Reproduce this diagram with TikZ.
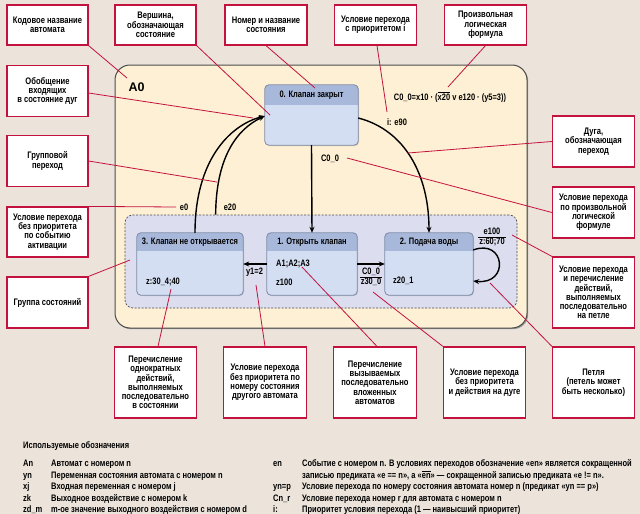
\documentclass[tikz,border=0pt]{standalone}
\usepackage{fontspec}
\setmainfont{Liberation Sans}
\newfontfamily\cnd{Liberation Sans}[FakeStretch=0.8]
\usetikzlibrary{arrows.meta,shadows}
\definecolor{bg}{HTML}{ECE4DB}
\definecolor{panel}{HTML}{FDF0D4}
\definecolor{grpfill}{HTML}{DCDEEF}
\definecolor{sthead}{HTML}{A8B8DA}
\definecolor{stbody}{HTML}{D4DEF2}
\definecolor{stedge}{HTML}{7D8AA8}
\definecolor{crim}{HTML}{C4123E}
\newcommand\cfont{\fontsize{9.5}{9.3}\selectfont\cnd\bfseries}
\newcommand\lfont{\fontsize{9.35}{9.6}\selectfont\cnd\bfseries}
\newcommand\lgfont{\fontsize{9.4}{9.6}\selectfont\cnd\bfseries}
\tikzset{
 callout/.style={draw=crim, line width=1.2pt, fill=white, align=center, inner sep=1pt, font=\cfont},
 lead/.style={draw=crim, line width=0.8pt},
 arr/.style={draw=black, line width=1.4pt, -{Stealth[length=6pt,width=5pt]}},
 lbl/.style={font=\lfont, inner sep=1pt},
 lg/.style={font=\lgfont, inner sep=0pt, anchor=base west},
 statebox/.style={fill=stbody, rounded corners=4pt, inner sep=0pt,
   drop shadow={shadow xshift=1pt, shadow yshift=-1pt, opacity=0.3}},
}
\newcommand\mkstate[6]{%
 \node[statebox, minimum width=#4pt, minimum height=#5pt] (#1) at (#2,#3) {};
 \begin{scope}
 \clip[rounded corners=4pt] (#1.north west) rectangle (#1.south east);
 \fill[sthead] (#1.north west) rectangle ([yshift=-#6pt]#1.north east);
 \end{scope}
 \draw[stedge, line width=0.8pt, rounded corners=4pt] (#1.north west) rectangle (#1.south east);
}
\begin{document}
\begin{tikzpicture}[x=1pt,y=-1pt]
\useasboundingbox (0,0) rectangle (640,514);
\fill[bg] (0,0) rectangle (640,514);
% panel A0
\fill[black!40, rounded corners=15pt] (116.2,66.2) rectangle (528.2,329.2);
\node[fill=panel, draw=black!70, line width=1pt, rounded corners=15pt, minimum width=412pt, minimum height=263pt, inner sep=0pt] (panel) at (321,196.5) {};
\node[font=\fontsize{12.5}{14}\selectfont\bfseries, inner sep=0pt] (a0) at (136.5,87) {A0};
% group
\node[fill=grpfill, draw=black!70, line width=0.7pt, dash pattern=on 2pt off 1.5pt, rounded corners=8pt, minimum width=392pt, minimum height=93pt, inner sep=0pt] (grp) at (321,261.5) {};
\coordinate (g20) at ([xshift=91pt]grp.north west);
% states
\mkstate{s0}{311.5}{115}{93}{60}{20}
\mkstate{s3}{190}{264}{106}{62}{18}
\mkstate{s1}{312}{264}{90}{62}{18}
\mkstate{s2}{429}{264}{88}{62}{18}
\node[lbl] (s0h) at (311.5,95) {0. Клапан закрыт};
\node[lbl] (s3h) at (190,242) {3. Клапан не открывается};
\node[lbl] (s1h) at (312,242) {1. Открыть клапан};
\node[lbl] (s2h) at (429,242) {2. Подача воды};
\node[lbl, anchor=west] (s3a) at (145,282) {z:30\_4;40};
\node[lbl, anchor=west] (s1a) at (275,264) {A1;A2;A3};
\node[lbl, anchor=west] (s1b) at (275,282) {z100};
\node[lbl, anchor=west] (s2a) at (392,281) {z20\_1};
% arrows
\draw[arr] (s0.south) -- (s1.north);
\draw[arr] ([yshift=-3pt]s0.east) .. controls (405,130) and (429,175) .. (s2.north);
\draw[arr] ([xshift=5pt]s3.north) .. controls (195,160) and (230,125) .. ([yshift=-1pt]s0.west);
\draw[arr] (g20) .. controls (216,160) and (235,130) .. ([yshift=-1pt]s0.west);
\draw[arr] (s1.west) -- (s3.east);
\draw[arr] (s1.east) -- (s2.west);
\draw[arr] ([yshift=14pt]s2.east) .. controls (505,238) and (510,285) .. ([yshift=-17pt]s2.east);
% labels
\node[lbl] (fml) at (450,97) {C0\_0=x10 · (\(\overline{\hbox{x20}}\) v e120 · (y5=3))};
\node[lbl] (e90) at (397,122) {i: e90};
\node[lbl] (c00) at (330,159) {C0\_0};
\node[lbl] (e0) at (184,207) {e0};
\node[lbl] (e20) at (230,207) {e20};
\node[lbl] (y12) at (254.5,272) {y1=2};
\node[lbl, align=center] (fr1) at (371,277) {C0\_0\\[0pt]z30\_0};
\draw[line width=0.6pt] (fr1.west) -- (fr1.east);
\node[lbl, align=center] (fr2) at (492,237) {e100\\[0pt]z:60;70};
\draw[line width=0.6pt] (fr2.west) -- (fr2.east);
% target coordinates
\coordinate (t1) at (127,78);
\coordinate (t2) at (270,115);
\coordinate (t3) at (315,88);
\coordinate (t4) at (387,112);
\coordinate (t5) at (448,87);
\coordinate (t6) at (253,118);
\coordinate (t7) at (217,182);
\coordinate (t8) at (176,207);
\coordinate (t9) at (130,260);
\coordinate (t10) at (408,153);
\coordinate (t11) at (347,158);
\coordinate (t12) at (512,235);
\coordinate (t13) at (490,283);
\coordinate (t14) at (171,289);
\coordinate (t15) at (256,285);
\coordinate (t16) at (302,267);
\coordinate (t17) at (373,292);
% callouts
\node[callout, minimum width=81pt, minimum height=40pt] (b1) at (47.5,25) {Кодовое название\\автомата};
\node[callout, minimum width=81pt, minimum height=40pt] (b2) at (155.5,25) {Вершина,\\обозначающая\\состояние};
\node[callout, minimum width=82pt, minimum height=40pt] (b3) at (266,25) {Номер и название\\состояния};
\node[callout, minimum width=82pt, minimum height=40pt] (b4) at (375.5,25) {Условие перехода\\с приоритетом i};
\node[callout, minimum width=82pt, minimum height=40pt] (b5) at (485.5,25) {Произвольная\\логическая\\формула};
\node[callout, minimum width=81pt, minimum height=51pt] (b6) at (47.5,91) {Обобщение\\входящих\\в состояние дуг};
\node[callout, minimum width=81pt, minimum height=51pt] (b7) at (47.5,161) {Групповой\\переход};
\node[callout, minimum width=81pt, minimum height=50pt] (b8) at (47.5,232) {Условие перехода\\без приоритета\\по событию\\активации};
\node[callout, minimum width=81pt, minimum height=51pt] (b9) at (47.5,302.5) {Группа состояний};
\node[callout, minimum width=82pt, minimum height=51pt] (b10) at (593.5,141.5) {Дуга,\\обозначающая\\переход};
\node[callout, minimum width=82pt, minimum height=51pt] (b11) at (593.5,212.5) {Условие перехода\\по произвольной\\логической\\формуле};
\node[callout, minimum width=82pt, minimum height=71pt] (b12) at (593.5,292.5) {Условие перехода\\и перечисление\\действий,\\выполняемых\\последовательно\\на петле};
\node[callout, minimum width=82pt, minimum height=71pt] (b13) at (593.5,382.5) {Петля\\(петель может\\быть несколько)};
\node[callout, minimum width=82pt, minimum height=71pt] (b14) at (155.5,382.5) {Перечисление\\однократных\\действий,\\выполняемых\\последовательно\\в состоянии};
\node[callout, minimum width=83pt, minimum height=71pt] (b15) at (265,382.5) {Условие перехода\\без приоритета по\\номеру состояния\\другого автомата};
\node[callout, minimum width=83pt, minimum height=71pt] (b16) at (375,382.5) {Перечисление\\вызываемых\\последовательно\\вложенных\\автоматов};
\node[callout, minimum width=82pt, minimum height=71pt] (b17) at (484.5,382.5) {Условие перехода\\без приоритета\\и действия на дуге};
% leaders
\draw[lead] (b1.south east) -- (t1);
\draw[lead] (b2.south east) -- (t2);
\draw[lead] (b3.south) -- (t3);
\draw[lead] ([xshift=1.5pt]b4.south) -- (t4);
\draw[lead] (b5.south) -- (t5);
\draw[lead] ([yshift=-2pt]b6.east) -- (t6);
\draw[lead] (b7.east) -- (t7);
\draw[lead] (b8.north east) -- (t8);
\draw[lead] (b9.north east) -- (t9);
\draw[lead] (b10.west) -- (t10);
\draw[lead] (b11.west) -- (t11);
\draw[lead] (b12.north west) -- (t12);
\draw[lead] (b13.north west) -- (t13);
\draw[lead] ([xshift=2.5pt]b14.north) -- (t14);
\draw[lead] (b15.north) -- (t15);
\draw[lead] ([xshift=2pt]b16.north) -- (t16);
\draw[lead] (b17.north west) -- (t17);
% legend
\node[lg] (lgt) at (23,448) {Используемые обозначения};
\node[lg] (k1) at (23,466) {An};
\node[lg] (v1) at (51,466) {Автомат с номером n};
\node[lg] (k2) at (23,478) {yn};
\node[lg] (v2) at (51,478) {Переменная состояния автомата с номером n};
\node[lg] (k3) at (23,489.5) {xj};
\node[lg] (v3) at (51,489.5) {Входная переменная с номером j};
\node[lg] (k4) at (23,501) {zk};
\node[lg] (v4) at (51,501) {Выходное воздействие с номером k};
\node[lg] (k5) at (23,512) {zd\_m};
\node[lg] (v5) at (51,512) {m-ое значение выходного воздействия с номером d};
\node[lg] (k6) at (273,466) {en};
\node[lg] (v6) at (302,466) {Событие с номером n. В условиях переходов обозначение «en» является сокращенной};
\node[lg] (v6b) at (302,478) {записью предиката «e == n», а «\(\overline{\hbox{en}}\)» — сокращенной записью предиката «e != n».};
\node[lg] (k7) at (273,489.5) {yn=p};
\node[lg] (v7) at (302,489.5) {Условие перехода по номеру состояния автомата номер n (предикат «yn == p»)};
\node[lg] (k8) at (273,501) {Cn\_r};
\node[lg] (v8) at (302,501) {Условие перехода номер r для автомата с номером n};
\node[lg] (k9) at (273,512) {i:};
\node[lg] (v9) at (302,512) {Приоритет условия перехода (1 — наивысший приоритет)};
\end{tikzpicture}
\end{document}
